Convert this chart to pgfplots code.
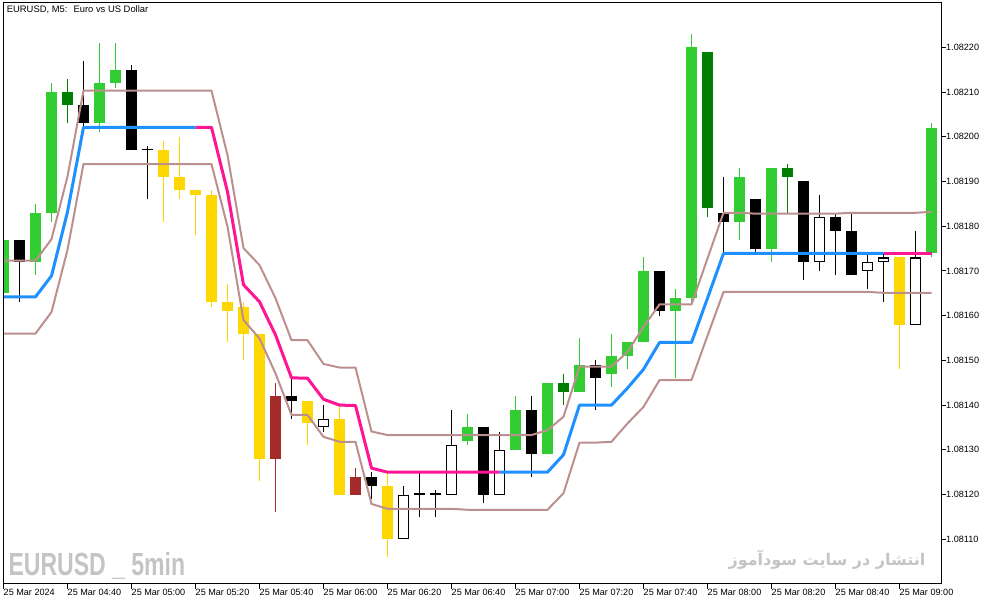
\documentclass[border=0pt]{standalone}
\usepackage{pgfplots}
\pgfplotsset{compat=1.18}
\usepackage{pgfplotstable}
\usepackage{fontspec}
\setmainfont{Liberation Sans}
\newfontfamily\farsi[Script=Arabic]{DejaVu Sans}
\newfontfamily\wmfont[FakeStretch=0.72]{Liberation Sans}
\TeXXeTstate=1

\definecolor{cgreen}{HTML}{32CD32}
\definecolor{cdkgreen}{HTML}{008000}
\definecolor{cgold}{HTML}{FFD700}
\definecolor{cbrown}{HTML}{A52A2A}
\definecolor{cblue}{HTML}{1E90FF}
\definecolor{cpink}{HTML}{FF1493}
\definecolor{crosy}{HTML}{BC8F8F}
\definecolor{cwm}{HTML}{C4C4C4}

% bars: index of the 5-min bar (0 = 04:20), open high low close in points above 1.08000
\pgfplotstableread{
i o h l c
0 165 178 163 177
2 172 185 169 183
3 183 212 181 210
6 203 221 201 212
7 212 221 211 215
29 132 138 131 135
32 130 142 130 139
34 129 145 129 145
36 143 155 143 149
38 147 156 144 151
39 151 154 148 154
40 154 173 154 170
42 161 166 146 164
43 164 223 163 220
46 181 193 177 191
48 175 193 172 193
58 174 203 173 202
}\barsGreen

\pgfplotstableread{
i o h l c
4 210 213 203 207
35 145 147 140 143
44 219 219 182 184
49 193 194 183 191
}\barsDkGreen

\pgfplotstableread{
i o h l c
1 177 177 163 172
5 207 217 202 203
8 215 216 197 197
9 197 198 186 197
18 142 146 137 141
23 124 125 119 122
26 120 125 115 120
27 120 121 115 120
30 135 135 118 120
33 139 142 124 129
37 149 150 139 146
41 170 170 160 161
45 183 191 174 181
47 186 186 174 175
50 190 190 168 172
52 182 183 169 179
53 179 183 169 169
}\barsBlack

\pgfplotstableread{
i o h l c
20 135 140 134 137
25 110 122 110 120
28 120 139 120 131
31 120 134 120 130
51 172 187 170 182
54 170 174 166 172
55 172 174 163 173
57 158 179 158 173
}\barsWhite

\pgfplotstableread{
i o h l c
10 197 199 181 191
11 191 200 186 188
12 188 188 178 187
13 187 188 162 163
14 163 167 154 161
15 162 163 150 156
16 156 156 123 128
19 141 141 131 136
21 137 140 120 120
24 122 125 106 110
56 173 173 148 158
}\barsGold

\pgfplotstableread{
i o h l c
17 128 145 116 142
22 120 126 120 124
}\barsBrown

% channel: upper band, middle line, lower band
\pgfplotstableread{
i u m l
0 172.3 164.2 156.0
1 172.3 164.2 156.0
2 172.3 164.2 156.0
3 177.1 168.9 160.8
4 191.1 183.2 174.7
5 210.3 202.1 193.9
6 210.3 202.1 193.9
7 210.3 202.1 193.9
8 210.3 202.1 193.9
9 210.3 202.1 193.9
10 210.3 202.1 193.9
11 210.3 202.1 193.9
12 210.3 202.1 193.9
13 210.3 202.1 193.9
14 195.9 187.7 179.9
15 175.1 166.9 159.0
16 171.3 163.1 154.9
17 163.9 155.7 147.1
18 154.5 146.1 137.8
19 154.5 146.0 137.8
20 149.2 141.3 132.9
21 148.4 140.0 131.8
22 148.4 139.9 131.8
23 134.1 125.9 117.9
24 133.3 125.0 116.8
25 133.3 125.0 116.8
26 133.3 125.0 116.8
27 133.3 125.0 116.8
28 133.3 125.0 116.8
29 133.3 125.0 116.6
30 133.3 125.0 116.6
31 133.3 125.0 116.6
32 133.3 125.0 116.6
33 133.3 125.0 116.6
34 134.4 125.0 116.6
35 137.4 128.9 120.3
36 148.6 140.0 131.6
37 148.6 140.0 131.6
38 148.6 140.0 131.8
39 151.9 143.8 135.9
40 157.5 148.0 139.6
41 162.5 154.0 145.6
42 162.5 154.0 145.6
43 162.5 154.0 145.6
44 172.8 163.9 155.5
45 183.0 173.9 165.3
46 183.0 173.9 165.3
47 182.8 173.9 165.3
48 182.8 173.9 165.3
49 182.8 173.9 165.3
50 182.8 173.9 165.3
51 182.8 173.9 165.3
52 182.8 173.9 165.3
53 183.0 173.9 165.3
54 183.0 173.9 165.3
55 183.0 173.9 165.1
56 183.0 173.9 165.1
57 183.0 173.9 165.1
58 183.2 173.9 165.1
}\channel

\pgfplotsset{
  wick/.style={only marks, mark=*, mark size=0pt, mark options={draw=none, fill=none}, forget plot,
    error bars/.cd, y dir=plus, y explicit, error mark=none,
    error bar style={draw=#1, line width=1pt, solid}},
  body/.style 2 args={only marks, mark=*, mark size=0pt, mark options={draw=none, fill=none}, forget plot,
    error bars/.cd, y dir=plus, y explicit, error mark=none,
    error bar style={draw=#1, line width=#2, solid}},
}

% wicks then filled bodies of one colour group
\newcommand{\candles}[3]{%
  \addplot[wick=#2] table[x=i, y=l, y error plus expr={\thisrow{h}-\thisrow{l}}] {#1};
  \addplot[body={#3}{11pt}] table[x=i, y expr={min(\thisrow{o},\thisrow{c})},
    y error plus expr={max(abs(\thisrow{c}-\thisrow{o}),0.25)}] {#1};
}

\begin{document}
\begin{tikzpicture}
\useasboundingbox (-3pt,-21pt) rectangle (991pt,584pt);
\begin{axis}[
  scale only axis, width=938pt, height=581pt,
  xmin=-0.03125, xmax=58.59375, ymin=100, ymax=229.9,
  axis on top,
  axis line style={line width=1pt},
  xtick={0,4,...,56},
  xticklabels={25 Mar 2024, 25 Mar 04:40, 25 Mar 05:00, 25 Mar 05:20, 25 Mar 05:40,
    25 Mar 06:00, 25 Mar 06:20, 25 Mar 06:40, 25 Mar 07:00, 25 Mar 07:20,
    25 Mar 07:40, 25 Mar 08:00, 25 Mar 08:20, 25 Mar 08:40, 25 Mar 09:00},
  ytick={110,120,...,220},
  yticklabels={1.08110,1.08120,1.08130,1.08140,1.08150,1.08160,
    1.08170,1.08180,1.08190,1.08200,1.08210,1.08220},
  xtick pos=left, ytick pos=right, yticklabel pos=right,
  tick align=outside, major tick length=5pt,
  tick style={black, line width=1pt},
  tick label style={font=\fontsize{9.1}{11}\selectfont},
  xticklabel style={anchor=north west, inner sep=0pt},
  yticklabel style={anchor=west, inner sep=0pt},
]
\node[anchor=base west, inner sep=0pt, text=cwm,
  font=\wmfont\bfseries\fontsize{32}{34}\selectfont, xshift=5.3pt, yshift=8.3pt]
  at (rel axis cs:0,0) {EURUSD \_ 5min};
\node[anchor=base east, inner sep=0pt, text=cwm,
  font=\farsi\bfseries\fontsize{16}{20}\selectfont, xshift=-15.3pt, yshift=18pt]
  at (rel axis cs:1,0) {\beginR انتشار در سایت سودآموز\endR};
\node[anchor=west, inner sep=0pt, font=\fontsize{9.4}{11}\selectfont,
  xshift=3.7pt, yshift=-7pt] at (rel axis cs:0,1) {EURUSD, M5:~ Euro vs US Dollar};

\candles{\barsGreen}{cgreen}{cgreen}
\candles{\barsDkGreen}{cdkgreen}{cdkgreen}
\candles{\barsBlack}{black}{black}
\candles{\barsGold}{cgold}{cgold}
\candles{\barsBrown}{cbrown}{cbrown}
% hollow bars: black outline, white inside
\addplot[wick=black] table[x=i, y=l, y error plus expr={\thisrow{h}-\thisrow{l}}] {\barsWhite};
\addplot[body={black}{11pt}] table[x=i, y expr={min(\thisrow{o},\thisrow{c})},
  y error plus expr={abs(\thisrow{c}-\thisrow{o})}] {\barsWhite};
\addplot[body={white}{9pt}] table[x=i, y expr={min(\thisrow{o},\thisrow{c})+0.23},
  y error plus expr={abs(\thisrow{c}-\thisrow{o})-0.46}] {\barsWhite};

\addplot[crosy, line width=2pt, line join=round] table[x=i, y=u] {\channel};
\addplot[crosy, line width=2pt, line join=round] table[x=i, y=l] {\channel};
\addplot[cblue, line width=3pt, line join=round, restrict x to domain=0:12] table[x=i, y=m] {\channel};
\addplot[cpink, line width=3pt, line join=round, restrict x to domain=12:31] table[x=i, y=m] {\channel};
\addplot[cblue, line width=3pt, line join=round, restrict x to domain=31:55] table[x=i, y=m] {\channel};
\addplot[cpink, line width=3pt, line join=round, restrict x to domain=55:58] table[x=i, y=m] {\channel};
\end{axis}
\end{tikzpicture}
\end{document}
